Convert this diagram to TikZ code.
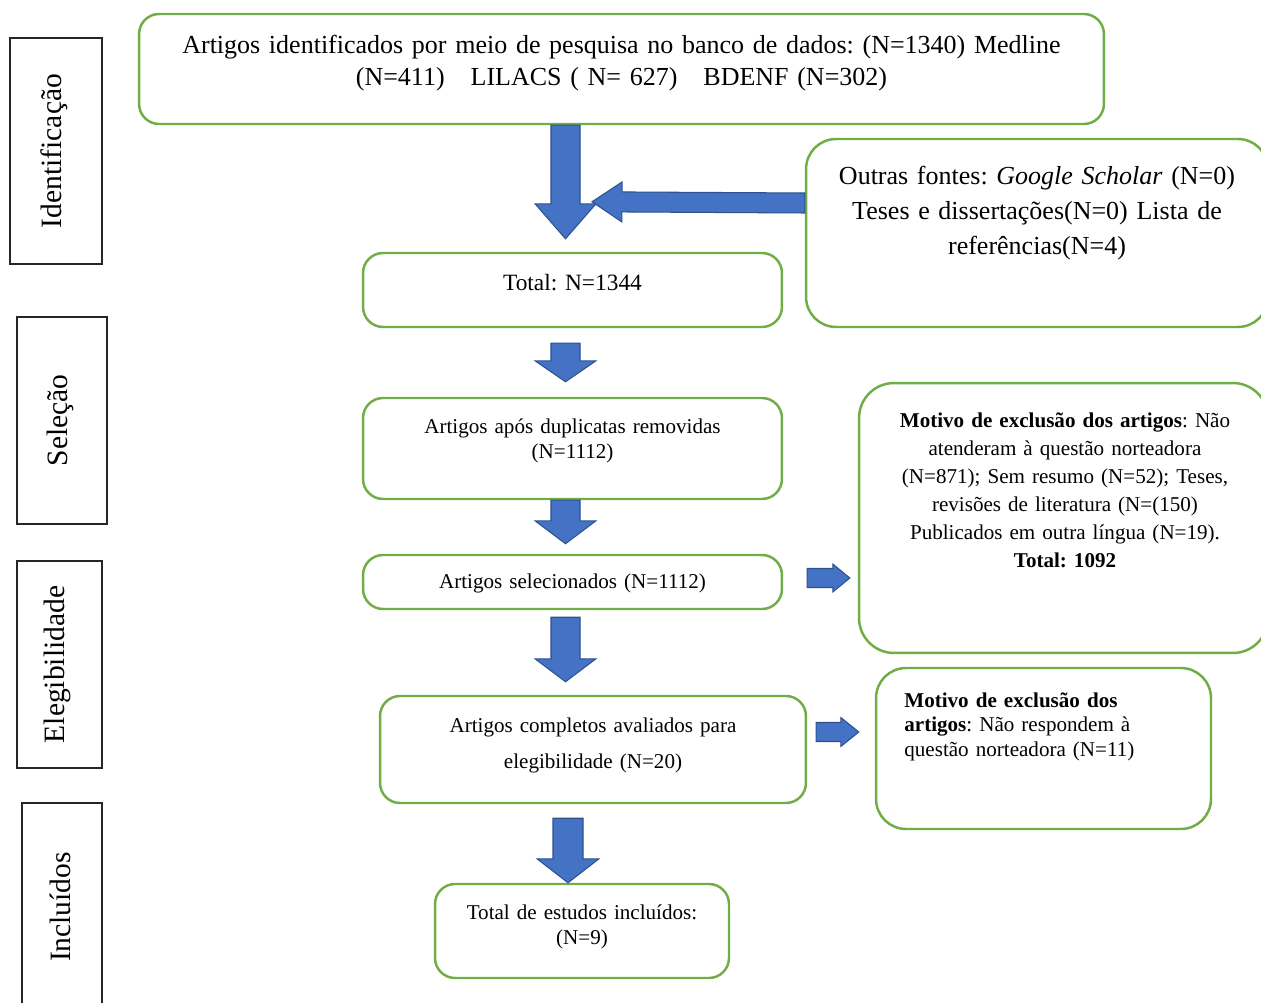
\documentclass[tikz,border=0pt]{standalone}
\usepackage{fontspec}
\setmainfont{Liberation Serif}
\usetikzlibrary{calc,positioning}
\definecolor{boxgreen}{RGB}{112,173,71}
\definecolor{arrowblue}{RGB}{68,114,196}
\definecolor{arrowedge}{RGB}{47,82,143}
\frenchspacing
\tikzset{
  gbox/.style={draw=boxgreen, line width=1.4pt, rounded corners=0.4cm, inner sep=0pt},
  stagebox/.style={draw=black!85, line width=0.8pt, inner sep=0pt},
  stagelabel/.style={rotate=90, font=\fontsize{16.8}{19}\selectfont},
  bigtxt/.style={anchor=base, align=center, text width=#1, inner sep=0pt, font=\fontsize{14.8}{18}\selectfont},
  smalltxt/.style={anchor=base, align=center, text width=#1, inner sep=0pt, font=\fontsize{12}{14.2}\selectfont},
  blk/.style={fill=arrowblue, draw=arrowedge, line width=0.6pt, line join=miter}
}
\newcommand{\blockarrow}[5]{%
  \coordinate (ba) at ($(#2)!#3!(#1)$);
  \draw[blk] ($(#1)!#4!90:(#2)$) -- ($(ba)!#4!90:(#2)$) -- ($(ba)!#5!90:(#2)$) -- (#2)
    -- ($(ba)!#5!-90:(#2)$) -- ($(ba)!#4!-90:(#2)$) -- ($(#1)!#4!-90:(#2)$) -- cycle;}
\begin{document}
\begin{tikzpicture}[x=0.02cm, y=-0.02cm]
\useasboundingbox (0,0) rectangle (1261,1003);
\clip (0,0) rectangle (1261,1003);

\node[stagebox, minimum width=1.84cm, minimum height=4.52cm] (ident) at (56,151) {};
\node[stagelabel] (ident-t) at (54,151) {Identificação};
\node[stagebox, minimum width=1.80cm, minimum height=4.14cm] (selec) at (62,420.5) {};
\node[stagelabel] (selec-t) at (60,420.5) {Seleção};
\node[stagebox, minimum width=1.70cm, minimum height=4.14cm] (elegi) at (59.5,664.5) {};
\node[stagelabel] (elegi-t) at (57.5,664.5) {Elegibilidade};
\node[stagebox, minimum width=1.60cm, minimum height=4.24cm] (inclu) at (62,909) {};
\node[stagelabel] (inclu-t) at (60,907) {Incluídos};

\node[gbox, minimum width=19.30cm, minimum height=2.20cm] (src) at (621.5,69) {};
\node[bigtxt=19cm] (src-t) at (621.5,54) {Artigos identificados por meio de pesquisa no banco de dados: (N=1340) Medline\\
  (N=411)\ \ \ LILACS ( N= 627)\ \ \ BDENF (N=302)};
\node[gbox, rounded corners=0.6cm, minimum width=9.24cm, minimum height=3.76cm] (outras) at (1037,233) {};
\node[bigtxt=9cm, font=\fontsize{14.8}{19.8}\selectfont] (outras-t) at (1037,185) {Outras fontes: \textit{Google Scholar} (N=0)\\
  Teses e dissertações(N=0) Lista de\\ referências(N=4)};
\node[gbox, minimum width=8.38cm, minimum height=1.48cm] (total) at (572.5,290) {};
\node[smalltxt=8cm, font=\fontsize{13.3}{15}\selectfont] (total-t) at (572.5,291) {Total: N=1344};
\node[gbox, minimum width=8.38cm, minimum height=2.02cm] (dup) at (572.5,448.5) {};
\node[smalltxt=8cm] (dup-t) at (572.5,433.5) {Artigos após duplicatas removidas\\ (N=1112)};
\node[gbox, minimum width=8.38cm, minimum height=1.08cm] (sel) at (572.5,582) {};
\node[smalltxt=8cm] (sel-t) at (572.5,588) {Artigos selecionados (N=1112)};
\node[gbox, rounded corners=0.7cm, minimum width=8.18cm, minimum height=5.40cm] (excl1) at (1063.5,518) {};
\node[smalltxt=8cm, font=\fontsize{12}{15.9}\selectfont] (excl1-t) at (1065,427.5) {\textbf{Motivo de exclusão dos artigos}: Não\\
  atenderam à questão norteadora\\ (N=871); Sem resumo (N=52); Teses,\\ revisões de literatura (N=(150)\\
  Publicados em outra língua (N=19).\\ \textbf{Total: 1092}};
\node[gbox, minimum width=8.52cm, minimum height=2.14cm] (elig) at (593,749.5) {};
\node[smalltxt=8cm, font=\fontsize{12}{20.4}\selectfont] (elig-t) at (593,732.5) {Artigos completos avaliados para\\ elegibilidade (N=20)};
\node[gbox, rounded corners=0.6cm, minimum width=6.70cm, minimum height=3.22cm] (excl2) at (1043.5,748.5) {};
\node[smalltxt=6cm, anchor=base west, align=left, font=\fontsize{12}{14.1}\selectfont] (excl2-t) at (904,707) {\textbf{Motivo de exclusão dos}\\
  \textbf{artigos}: Não respondem à\\ questão norteadora (N=11)};
\node[gbox, minimum width=5.88cm, minimum height=1.88cm] (incl) at (582,931) {};
\node[smalltxt=5.5cm, font=\fontsize{12}{14.4}\selectfont] (incl-t) at (582,919.5) {Total de estudos incluídos:\\ (N=9)};

\coordinate (a1s) at ($(src.south)+(-56,0)$);
\coordinate (a1e) at ($(total.north)+(-7,-13)$);
\coordinate (a2s) at ($(total.south)+(-7,15)$);
\coordinate (a2e) at ($(dup.north)+(-7,-15)$);
\coordinate (a3s) at ($(dup.south)+(-7,0)$);
\coordinate (a3e) at ($(sel.north)+(-7,-10)$);
\coordinate (a4s) at ($(sel.south)+(-7,7)$);
\coordinate (a4e) at ($(elig.north)+(-27.5,-13)$);
\coordinate (a5s) at ($(elig.south)+(-25,14)$);
\coordinate (a5e) at ($(incl.north)+(-14,0)$);
\coordinate (l1s) at ($(outras.west)+(0,-30)$);
\coordinate (l1e) at ($(total.north)+(19.5,-50)$);
\coordinate (r1s) at ($(sel.east)+(24,-4)$);
\coordinate (r1e) at ($(excl1.west)+(-8,60)$);
\coordinate (r2s) at ($(elig.east)+(9,-17.5)$);
\coordinate (r2e) at ($(excl2.west)+(-16,-16.5)$);

\blockarrow{a1s}{a1e}{0.70cm}{0.29cm}{0.61cm}
\blockarrow{a2s}{a2e}{0.42cm}{0.29cm}{0.61cm}
\blockarrow{a3s}{a3e}{0.46cm}{0.29cm}{0.61cm}
\blockarrow{a4s}{a4e}{0.46cm}{0.29cm}{0.61cm}
\blockarrow{a5s}{a5e}{0.48cm}{0.30cm}{0.62cm}
\blockarrow{l1s}{l1e}{0.60cm}{0.20cm}{0.40cm}
\blockarrow{r1s}{r1e}{0.34cm}{0.19cm}{0.28cm}
\blockarrow{r2s}{r2e}{0.36cm}{0.19cm}{0.29cm}
\end{tikzpicture}
\end{document}
